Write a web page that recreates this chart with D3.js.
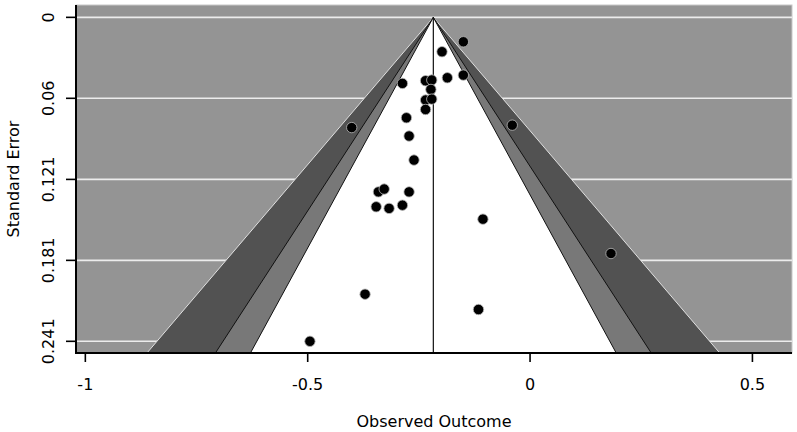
<!DOCTYPE html>
<html>
<head>
<meta charset="utf-8">
<script src="https://cdn.jsdelivr.net/npm/d3@7"></script>
<style>
  html, body { margin: 0; padding: 0; background: #ffffff; }
  svg { display: block; }
  text { font-family: "DejaVu Sans", sans-serif; fill: #000; }
</style>
</head>
<body>
<script>
// ---- data ----
const effectValues = [-0.150, -0.198, -0.186, -0.150, -0.287, -0.235, -0.221, -0.223, -0.235, -0.221,
                      -0.235, -0.278, -0.401, -0.040, -0.272, -0.261, -0.341, -0.328, -0.272, -0.346,
                      -0.317, -0.287, -0.106, 0.182, -0.371, -0.116, -0.495];
const standardErrors = [0.0182, 0.0256, 0.0450, 0.0430, 0.0492, 0.0472, 0.0467, 0.0537, 0.0616, 0.0609,
                        0.0686, 0.0748, 0.0821, 0.0803, 0.0884, 0.1063, 0.1300, 0.1279, 0.1300, 0.1411,
                        0.1423, 0.1399, 0.1503, 0.1759, 0.2062, 0.2176, 0.2413];
const pooledEstimate = -0.2175;
const contourLevels = [0.99, 0.95, 0.90];
const contourZ = [2.5758, 1.9600, 1.6449];
const yTickValues = [0, 0.0603, 0.1207, 0.181, 0.2413];
const yTickLabels = ["0", "0.06", "0.121", "0.181", "0.241"];
const xTickValues = [-1, -0.5, 0, 0.5];
const xTickLabels = ["-1", "-0.5", "0", "0.5"];

// ---- layout ----
const W = 797, H = 432;
const L = 76, R = 792, T = 5, B = 353;

const svg = d3.select("body").append("svg").attr("width", W).attr("height", H);

const x = d3.scaleLinear().domain([-1.021, 0.589]).range([L, R]);
const y = d3.scaleLinear().domain([-0.0092, 0.2500]).range([T, B]);
const seBottom = y.domain()[1];

// background
svg.append("rect").attr("x", L).attr("y", T).attr("width", R - L).attr("height", B - T)
  .attr("fill", "#949494").attr("stroke", "#c8c8c8").attr("stroke-width", 1);

// horizontal grid lines
svg.append("g").selectAll("line").data(yTickValues).join("line")
  .attr("x1", L).attr("x2", R)
  .attr("y1", d => y(d)).attr("y2", d => y(d))
  .attr("stroke", "#ececec").attr("stroke-width", 1.6);

// contour regions
const fills = ["#525252", "#787878", "#ffffff"];
const strokes = ["#e0e0e0", "#111111", "#111111"];
contourZ.forEach((z, i) => {
  const pts = [
    [x(pooledEstimate), y(0)],
    [x(pooledEstimate - z * seBottom), y(seBottom)],
    [x(pooledEstimate + z * seBottom), y(seBottom)]
  ];
  svg.append("path")
    .attr("d", "M" + pts[0] + "L" + pts[1] + "L" + pts[2] + "Z")
    .attr("fill", fills[i]);
  svg.append("path")
    .attr("d", "M" + pts[1] + "L" + pts[0] + "L" + pts[2])
    .attr("fill", "none").attr("stroke", strokes[i]).attr("stroke-width", 1);
});

// reference line at estimate
svg.append("line")
  .attr("x1", x(pooledEstimate)).attr("x2", x(pooledEstimate))
  .attr("y1", y(0)).attr("y2", B)
  .attr("stroke", "#111").attr("stroke-width", 1.2);

// points
svg.append("g").selectAll("circle").data(effectValues).join("circle")
  .attr("cx", d => x(d))
  .attr("cy", (d, i) => y(standardErrors[i]))
  .attr("r", 5.2)
  .attr("fill", "#000")
  .attr("stroke", "#b8b8b8").attr("stroke-width", 0.8);

// axes lines (L-shaped)
svg.append("path")
  .attr("d", `M${L},${T}L${L},${B}L${R},${B}`)
  .attr("fill", "none").attr("stroke", "#000").attr("stroke-width", 2);

// y ticks
const yAxisG = svg.append("g");
yAxisG.selectAll("line").data(yTickValues).join("line")
  .attr("x1", L - 10).attr("x2", L)
  .attr("y1", d => y(d)).attr("y2", d => y(d))
  .attr("stroke", "#000").attr("stroke-width", 1.6);
yAxisG.selectAll("text").data(yTickValues).join("text")
  .attr("transform", d => `translate(${54},${y(d)}) rotate(-90)`)
  .attr("text-anchor", "middle")
  .attr("font-size", 16)
  .text((d, i) => yTickLabels[i]);

// x ticks
const xAxisG = svg.append("g");
xAxisG.selectAll("line").data(xTickValues).join("line")
  .attr("x1", d => x(d)).attr("x2", d => x(d))
  .attr("y1", B).attr("y2", B + 9)
  .attr("stroke", "#000").attr("stroke-width", 1.6);
xAxisG.selectAll("text").data(xTickValues).join("text")
  .attr("x", d => x(d)).attr("y", 390)
  .attr("text-anchor", "middle")
  .attr("font-size", 16)
  .text((d, i) => xTickLabels[i]);

// axis titles
svg.append("text")
  .attr("x", (L + R) / 2).attr("y", 427)
  .attr("text-anchor", "middle").attr("font-size", 16)
  .text("Observed Outcome");
svg.append("text")
  .attr("transform", `translate(19,${(T + B) / 2}) rotate(-90)`)
  .attr("text-anchor", "middle").attr("font-size", 16)
  .text("Standard Error");
</script>
</body>
</html>
